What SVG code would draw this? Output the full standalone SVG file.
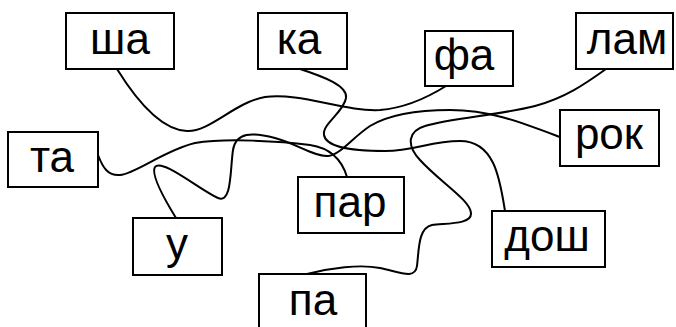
<svg xmlns="http://www.w3.org/2000/svg" width="676" height="327" viewBox="0 0 676 327">
<style>
.box{fill:#fff;stroke:#000;stroke-width:2}
.lbl{font-family:"Liberation Sans",Arial,sans-serif;font-size:44px;fill:#000;text-anchor:middle}
.c{fill:none;stroke:#000;stroke-width:2;stroke-linecap:round}
</style>
<rect width="676" height="327" fill="#fff"/>
<g id="connectors">
<path class="c" d="M117,69 C135,98 160,130 187,131 C210,132 235,102 265,97 C300,92 345,112 380,110 C405,108 430,96 446,86"/>
<path class="c" d="M297,68 C325,77 348,86 346,98 C344,112 322,124 324,135 C326,148 355,151 385,151 C415,151 430,141 460,141 C495,141 500,180 505,211"/>
<path class="c" d="M606,69 C585,84 565,98 535,106 C500,115 450,118 425,126 C408,131 406,145 420,160 C440,182 470,200 471,213 C472,225 445,223 432,225 C418,228 419,250 417,266 C415,280 400,272 380,268 C360,264 330,268 307,274"/>
<path class="c" d="M98,155 C103,168 108,176 120,175 C135,174 165,150 195,143 C225,138 280,141 310,145 C330,148 342,160 347,177"/>
<path class="c" d="M176,218 C168,205 150,175 155,167 C162,158 200,190 218,198 C232,204 230,170 233,150 C236,132 252,132 275,138 C295,143 315,157 328,156 C340,155 352,138 370,126 C390,114 420,110 450,110 C490,110 520,122 560,137"/>
</g>
<g id="node-sha"><rect class="box" x="66" y="13" width="108" height="56"/><text class="lbl" x="120" y="54">ша</text></g>
<g id="node-ka"><rect class="box" x="258" y="13" width="89" height="56"/><text class="lbl" x="299" y="54">ка</text></g>
<g id="node-fa"><rect class="box" x="425" y="31" width="88" height="55"/><text class="lbl" x="464" y="70">фа</text></g>
<g id="node-lam"><rect class="box" x="576" y="13" width="97" height="56"/><text class="lbl" x="627" y="54">лам</text></g>
<g id="node-ta"><rect class="box" x="8" y="132" width="90" height="55"/><text class="lbl" x="52" y="172">та</text></g>
<g id="node-rok"><rect class="box" x="560" y="110" width="99" height="56"/><text class="lbl" x="609" y="149">рок</text></g>
<g id="node-u"><rect class="box" x="133" y="218" width="89" height="57"/><text class="lbl" x="177" y="259">у</text></g>
<g id="node-par"><rect class="box" x="298" y="177" width="106" height="56"/><text class="lbl" x="350" y="217">пар</text></g>
<g id="node-dosh"><rect class="box" x="492" y="211" width="113" height="56"/><text class="lbl" x="547" y="251">дош</text></g>
<g id="node-pa"><rect class="box" x="259" y="274" width="107" height="60"/><text class="lbl" x="313" y="315">па</text></g>
</svg>
